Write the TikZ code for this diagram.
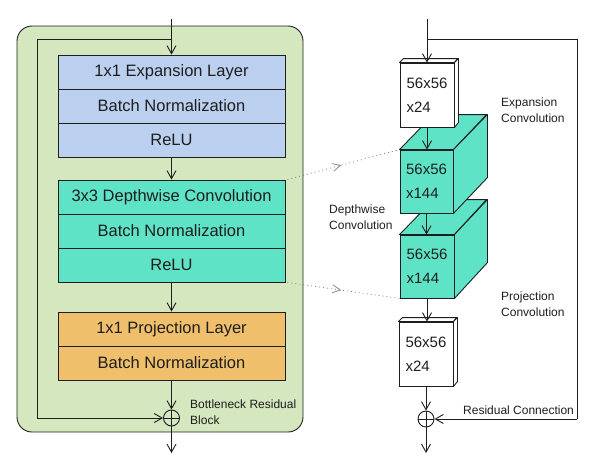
\documentclass[tikz,border=0pt]{standalone}
\usepackage{fontspec}
\setmainfont{Liberation Sans}
\usetikzlibrary{arrows.meta,decorations.markings,calc}
\definecolor{bgG}{HTML}{D4E7BE}
\definecolor{rowB}{HTML}{BBD0EF}
\definecolor{rowT}{HTML}{5FE3C6}
\definecolor{rowO}{HTML}{F0BF6B}
\definecolor{ink}{HTML}{1E1E1E}
\definecolor{dotc}{HTML}{8A8A8A}
\tikzset{
  arr/.style={draw=ink,line width=0.9pt,-{Straight Barb[length=8pt,width=9pt,line width=0.9pt]}},
  rowbox/.style={draw=ink,line width=0.9pt,minimum width=227pt,minimum height=34pt,inner sep=0pt,
     font=\fontsize{16.5}{20}\selectfont,text=ink},
  blk/.style={rowbox,fill=rowB},
  tbk/.style={rowbox,fill=rowT},
  obk/.style={rowbox,fill=rowO},
  sumc/.style={draw=ink,line width=0.9pt,circle,minimum size=16pt,inner sep=0pt,
     path picture={\draw[ink,line width=0.9pt] (path picture bounding box.north) -- (path picture bounding box.south)
       (path picture bounding box.west) -- (path picture bounding box.east);}},
  cubefront/.style={draw=ink,line width=0.9pt,inner sep=0pt,align=left,
     font=\fontsize{15}{24}\selectfont,text=ink},
  face/.style={draw=ink,line width=0.9pt,line join=round},
  lbl/.style={font=\fontsize{12}{16}\selectfont,text=ink,align=left,anchor=west,inner sep=0pt},
  dotarr/.style={draw=dotc,line width=0.8pt,dash pattern=on 1pt off 3pt,
     postaction={decorate},
     decoration={markings,mark=at position 0.48 with {\arrow[solid,dotc]{Straight Barb[length=8pt,width=8pt,line width=0.8pt]}}}}
}
\begin{document}
\begin{tikzpicture}[x=1pt,y=-1pt]
\useasboundingbox (0,0) rectangle (597,474);
% ---------- left panel ----------
\draw[fill=bgG,draw=ink,line width=0.9pt,rounded corners=15pt] (17,26) rectangle (303,432);
\node[blk] (e1) at (171.5,72) {1x1 Expansion Layer};
\node[blk] (e2) at (171.5,106) {Batch Normalization};
\node[blk] (e3) at (171.5,140) {ReLU};
\node[tbk] (d1) at (171.5,197) {3x3 Depthwise Convolution};
\node[tbk] (d2) at (171.5,231) {Batch Normalization};
\node[tbk] (d3) at (171.5,265) {ReLU};
\node[obk] (p1) at (171.5,329) {1x1 Projection Layer};
\node[obk] (p2) at (171.5,363) {Batch Normalization};
\node[sumc] (sumL) at (171.5,418) {};
\coordinate (inL) at (171.5,19);
\coordinate (brL) at (171.5,39);
\coordinate (cL1) at (37,39);
\coordinate (cL2) at (37,418);
\coordinate (outL) at (171.5,453);
\draw[arr] (inL) -- (e1.north);
\draw[arr] (brL) -- (cL1) -- (cL2) -- (sumL.west);
\draw[arr] (e3.south) -- (d1.north);
\draw[arr] (d3.south) -- (p1.north);
\draw[arr] (p2.south) -- (sumL.north);
\draw[arr] (sumL.south) -- (outL);
\node[lbl] (bnl) at (190,412) {Bottleneck Residual\\Block};
% ---------- right panel ----------
\node[cubefront,fill=rowT,minimum width=54pt,minimum height=63pt] (c2) at (427,266.5) {56x56\\x144};
\path[face,fill=rowT] (c2.north west) -- ++(34,-35) -- ++(53,0) -- (c2.north east) -- cycle;
\path[face,fill=rowT] (c2.north east) -- ++(33,-35) -- ++(0,63) -- (c2.south east) -- cycle;
\node[cubefront,fill=rowT,minimum width=53pt,minimum height=63pt] (c1) at (426.5,181.5) {56x56\\x144};
\path[face,fill=rowT] (c1.north west) -- ++(34,-35) -- ++(53,0) -- (c1.north east) -- cycle;
\path[face,fill=rowT] (c1.north east) -- ++(34,-35) -- ++(0,63) -- (c1.south east) -- cycle;
\node[cubefront,fill=white,minimum width=54pt,minimum height=64pt] (w1) at (427,95) {56x56\\x24};
\path[face,fill=white] (w1.north west) -- ++(4,-4) -- ++(54,0) -- (w1.north east) -- cycle;
\path[face,fill=white] (w1.north east) -- ++(4,-4) -- ++(0,64) -- (w1.south east) -- cycle;
\node[cubefront,fill=white,minimum width=54pt,minimum height=64pt] (w2) at (426,354) {56x56\\x24};
\path[face,fill=white] (w2.north west) -- ++(4,-4) -- ++(54,0) -- (w2.north east) -- cycle;
\path[face,fill=white] (w2.north east) -- ++(4,-4) -- ++(0,64) -- (w2.south east) -- cycle;
\node[sumc] (sumR) at (426,419) {};
\coordinate (inR) at (427,19);
\coordinate (brR) at (427,39);
\coordinate (cR1) at (577,39);
\coordinate (cR2) at (577,419);
\coordinate (outR) at (426,453);
\draw[arr] (inR) -- (w1.north);
\draw[ink,line width=0.9pt] (brR) -- (cR1) -- (cR2);
\draw[arr] (cR2) -- (sumR.east);
\draw[arr] (w1.south) -- (w1.south |- c1.north);
\draw[arr] (c1.south) -- (c1.south |- c2.north);
\draw[arr] (c2.south) -- (c2.south |- w2.north);
\draw[arr] (w2.south) -- (w2.south |- sumR.north);
\draw[arr] (sumR.south) -- (outR);
% dotted links
\coordinate (dA) at ($(d1.north east)+(2,0)$);
\coordinate (dB) at ($(d3.south east)+(2,0)$);
\draw[dotarr] (dA) -- (c1.north west);
\draw[dotarr] (dB) -- (c2.south west);
% labels
\node[lbl] (lexp) at (501,110) {Expansion\\Convolution};
\node[lbl] (ldep) at (329,217) {Depthwise\\Convolution};
\node[lbl] (lpro) at (501,304.5) {Projection\\Convolution};
\node[lbl] (lres) at (463,410) {Residual Connection};
\end{tikzpicture}
\end{document}
